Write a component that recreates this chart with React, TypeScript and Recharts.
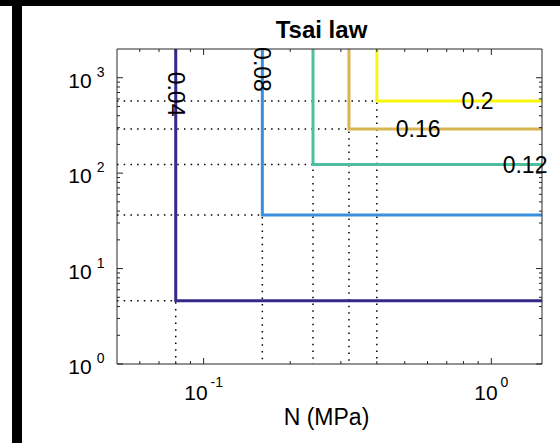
import { LineChart, Line, XAxis, YAxis, ReferenceDot } from 'recharts';

// axis limits (log scales)
const nMin = 0.05;
const nMax = 1.5;
const sMin = 1;
const sMax = 2000;

// contour levels and the corner of each L-shaped contour
const levels = ['0.04', '0.08', '0.12', '0.16', '0.2'];
const cornerN = [0.08, 0.16, 0.24, 0.32, 0.4];
const cornerS = [4.6, 36.5, 123, 291, 570];
const colors = ['#34298a', '#3b8edd', '#50bfa0', '#d9b552', '#f8f80e'];

// where the contour labels sit
const labelN = [0.08, 0.16, 1.31, 0.557, 0.896];
const labelS = [674, 1220, 123, 291, 570];
const labelVertical = [true, true, false, false, false];

// ticks (minor + major)
const xTicks = [0.06, 0.07, 0.08, 0.09, 0.1, 0.2, 0.3, 0.4, 0.5, 0.6, 0.7, 0.8, 0.9, 1];
const yTicks = [1, 2, 3, 4, 5, 6, 7, 8, 9, 10, 20, 30, 40, 50, 60, 70, 80, 90, 100, 200, 300, 400, 500, 600, 700, 800, 900, 1000];

const FONT = '"Liberation Sans", Arial, sans-serif';
const AXIS = '#262626';

const decade = (v: number) => {
  const e = Math.round(Math.log10(v));
  return Math.abs(Math.log10(v) - e) < 1e-6 ? e : null;
};

const BottomTick = ({ x, y, payload }: any) => {
  const e = decade(payload.value);
  return (
    <g>
      <line x1={x} x2={x} y1={y} y2={y - (e !== null ? 6 : 3)} stroke={AXIS} />
      {e !== null && (
        <text x={x} y={y + 36} textAnchor="middle" fontSize={21} fontFamily={FONT} fill="#000">
          <tspan>10</tspan>
          <tspan dx={3} dy={-13} fontSize={14}>{String(e)}</tspan>
        </text>
      )}
    </g>
  );
};

const TopTick = ({ x, y, payload }: any) => {
  const e = decade(payload.value);
  return <line x1={x} x2={x} y1={y} y2={y + (e !== null ? 6 : 3)} stroke={AXIS} />;
};

const LeftTick = ({ x, y, payload }: any) => {
  const e = decade(payload.value);
  return (
    <g>
      <line x1={x} x2={x + (e !== null ? 6 : 3)} y1={y} y2={y} stroke={AXIS} />
      {e !== null && (
        <text x={x - 12.5} y={y + 10} textAnchor="end" fontSize={21} fontFamily={FONT} fill="#000">
          <tspan>10</tspan>
          <tspan dx={5} dy={-11} fontSize={14}>{String(e)}</tspan>
        </text>
      )}
    </g>
  );
};

const RightTick = ({ x, y, payload }: any) => {
  const e = decade(payload.value);
  return <line x1={x} x2={x - (e !== null ? 6 : 3)} y1={y} y2={y} stroke={AXIS} />;
};

export default function App() {
  return (
    <div style={{ position: 'absolute', left: 0, top: 0, width: 560, height: 443, background: '#fff', overflow: 'hidden' }}>
      <LineChart width={560} height={443} margin={{ top: 48, right: 0, bottom: 0, left: 0 }}>
        <XAxis
          dataKey="n"
          type="number"
          scale="log"
          domain={[nMin, nMax]}
          allowDataOverflow
          ticks={xTicks}
          interval={0}
          height={79}
          tickSize={0}
          tickMargin={0}
          tickLine={false}
          axisLine={{ stroke: AXIS }}
          tick={<BottomTick />}
        />
        <XAxis
          xAxisId="top"
          orientation="top"
          dataKey="n"
          type="number"
          scale="log"
          domain={[nMin, nMax]}
          allowDataOverflow
          ticks={xTicks}
          interval={0}
          height={1}
          tickSize={0}
          tickMargin={0}
          tickLine={false}
          axisLine={{ stroke: AXIS }}
          tick={<TopTick />}
        />
        <YAxis
          dataKey="s"
          type="number"
          scale="log"
          domain={[sMin, sMax]}
          allowDataOverflow
          ticks={yTicks}
          interval={0}
          width={117}
          tickSize={0}
          tickMargin={0}
          tickLine={false}
          axisLine={{ stroke: AXIS }}
          tick={<LeftTick />}
        />
        <YAxis
          yAxisId="right"
          orientation="right"
          dataKey="s"
          type="number"
          scale="log"
          domain={[sMin, sMax]}
          allowDataOverflow
          ticks={yTicks}
          interval={0}
          width={18}
          tickSize={0}
          tickMargin={0}
          tickLine={false}
          axisLine={{ stroke: AXIS }}
          tick={<RightTick />}
        />

        {/* dotted guides from the axes to each corner */}
        {levels.map((lv, i) => (
          <Line
            key={'g' + lv}
            data={[
              { n: nMin, s: cornerS[i] },
              { n: cornerN[i], s: cornerS[i] },
              { n: cornerN[i], s: sMin },
            ]}
            dataKey="s"
            type="linear"
            stroke="#000"
            strokeWidth={1.5}
            strokeDasharray="1.5 5.2"
            dot={false}
            activeDot={false}
            isAnimationActive={false}
          />
        ))}

        {/* the contours */}
        {levels.map((lv, i) => (
          <Line
            key={'c' + lv}
            data={[
              { n: cornerN[i], s: sMax },
              { n: cornerN[i], s: cornerS[i] },
              { n: nMax, s: cornerS[i] },
            ]}
            dataKey="s"
            type="linear"
            stroke={colors[i]}
            strokeWidth={3}
            dot={false}
            activeDot={false}
            isAnimationActive={false}
          />
        ))}

        {levels.map((lv, i) => (
          <ReferenceDot
            key={'l' + lv}
            x={labelN[i]}
            y={labelS[i]}
            r={1}
            ifOverflow="visible"
            shape={(p: any) => (
              <text
                x={p.cx}
                y={p.cy}
                textAnchor="middle"
                dominantBaseline="central"
                fontSize={23}
                fontFamily={FONT}
                fill="#000"
                transform={labelVertical[i] ? `rotate(90 ${p.cx} ${p.cy})` : undefined}
              >
                {lv}
              </text>
            )}
          />
        ))}
      </LineChart>

      <svg width={560} height={443} style={{ position: 'absolute', left: 0, top: 0, pointerEvents: 'none' }}>
        <rect x={0} y={0} width={560} height={6} fill="#000" />
        <rect x={12} y={0} width={10} height={443} fill="#000" />
        <text x={321.5} y={38.3} textAnchor="middle" fontSize={24} fontWeight="bold" fontFamily={FONT} fill="#000">
          Tsai law
        </text>
        <text x={326.5} y={425} textAnchor="middle" fontSize={23} fontFamily={FONT} fill="#000">
          N (MPa)
        </text>
      </svg>
    </div>
  );
}
